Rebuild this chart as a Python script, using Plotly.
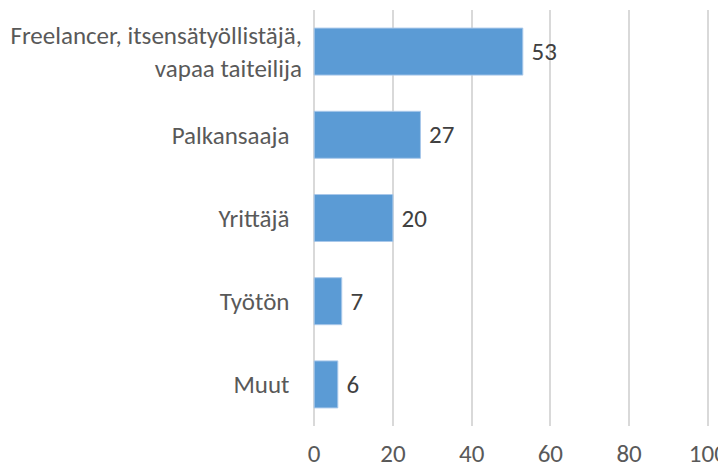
import plotly.graph_objects as go

categories = ["Freelancer, itsensätyöllistäjä,<br>vapaa taiteilija", "Palkansaaja",
              "Yrittäjä", "Työtön", "Muut"]
values = [53, 27, 20, 7, 6]
x_ticks = [0, 20, 40, 60, 80, 100]

font_family = "Carlito, Calibri, Lato, sans-serif"

# single-line labels sit a bit further left than the wrapped one
tick_text = [c if "<br>" in c else c + "\u2002" for c in categories]

fig = go.Figure(go.Bar(
    y=categories,
    x=values,
    orientation="h",
    marker=dict(color="#5b9bd5", line=dict(color="#a9c8ea", width=1)),
    text=values,
    texttemplate=" %{text}",
    textposition="outside",
    cliponaxis=False,
    textfont=dict(family=font_family, size=25, color="#404040"),
))

# the page body has an 8px margin, so the margins are shifted by that
fig.update_layout(
    width=726, height=469,
    margin=dict(l=305, r=25, t=2, b=51, autoexpand=False),
    paper_bgcolor="white", plot_bgcolor="white",
    bargap=0.435,
    showlegend=False,
    font=dict(family=font_family, size=25, color="#595959"),
)
fig.update_xaxes(range=[-0.3, 100.3], tickvals=x_ticks, showgrid=True, gridcolor="#d9d9d9",
                 gridwidth=1.5, zeroline=False, showline=False, ticks="", automargin=False,
                 ticklabelstandoff=10, ticklabeloverflow="allow",
                 tickfont=dict(size=25, color="#595959"))
fig.update_yaxes(autorange="reversed", showgrid=False, ticks="", ticklabelstandoff=10,
                 tickvals=categories, ticktext=tick_text,
                 automargin=False, tickfont=dict(size=25, color="#595959"))

fig.write_html("out.html")
